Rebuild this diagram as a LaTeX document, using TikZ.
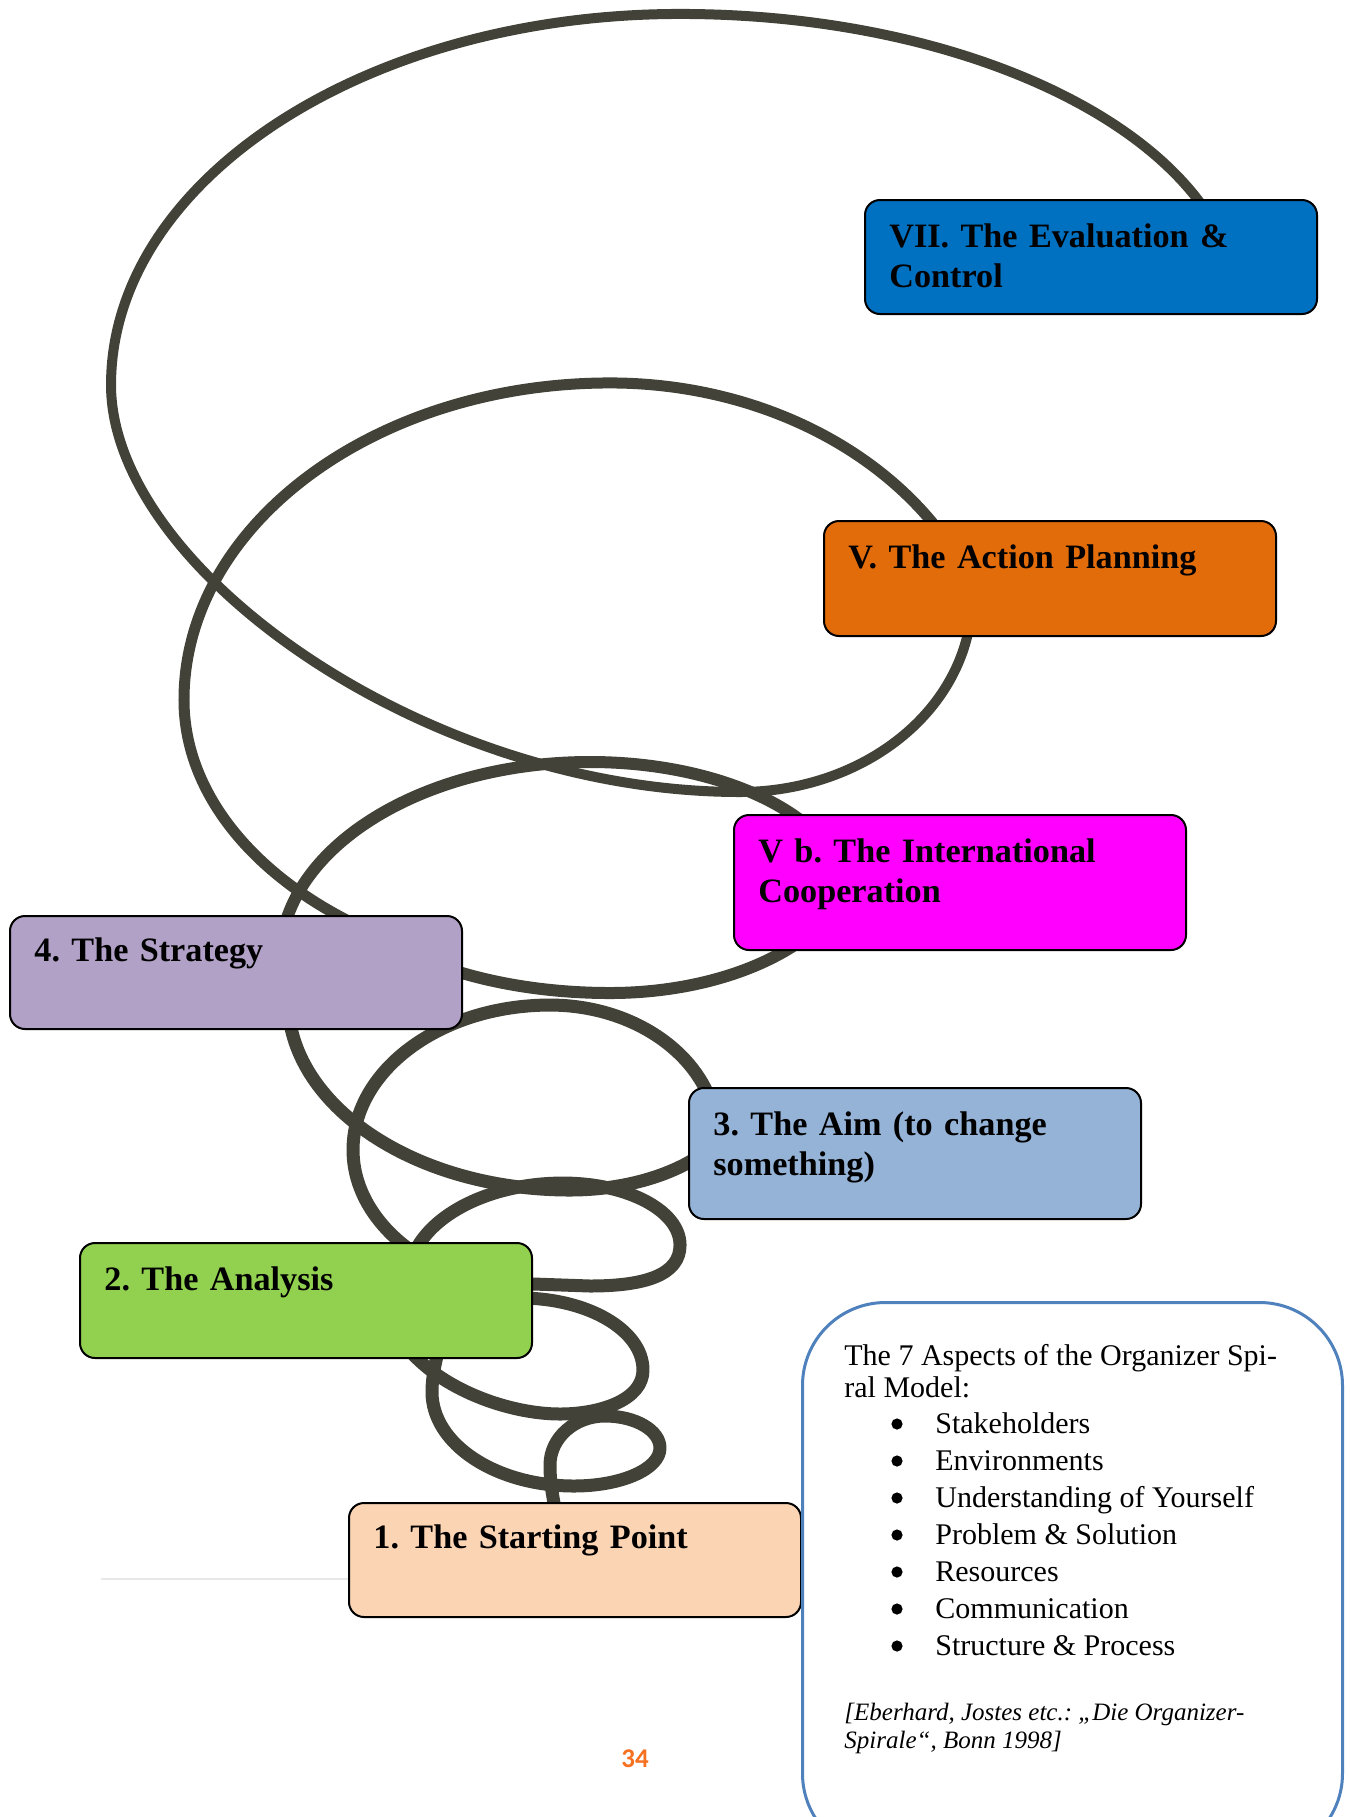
\documentclass[tikz,border=0pt]{standalone}
\usepackage{fontspec}
\setmainfont{Liberation Serif}
\newfontfamily\numfont{Carlito}
\definecolor{spiral}{RGB}{66,66,56}
\definecolor{c7}{HTML}{0070C0}
\definecolor{c5}{HTML}{E36C0A}
\definecolor{c5b}{HTML}{FF00FF}
\definecolor{c4}{HTML}{B2A1C7}
\definecolor{c3}{HTML}{95B3D7}
\definecolor{c2}{HTML}{92D050}
\definecolor{c1}{HTML}{FBD4B4}
\definecolor{infoblue}{HTML}{4F81BD}
\definecolor{pagenum}{RGB}{245,112,32}
\frenchspacing
\begin{document}
\begin{tikzpicture}[x=0.5pt,y=-0.5pt,
  coil/.style={draw=spiral, line cap=round, line join=round},
  stagebox/.style={draw=black, line width=1pt, rounded corners=7.5pt, minimum width=226pt, anchor=north west, inner sep=0pt},
  stagetext/.style={anchor=base west, inner sep=0pt, text width=215pt, align=left, font=\fontsize{17.1}{20}\bfseries\selectfont},
  infobox/.style={draw=infoblue, line width=1.5pt, rounded corners=41.5pt, anchor=north west, inner sep=0pt, minimum width=270pt, minimum height=277pt},
  infoline/.style={anchor=base west, inner sep=0pt, font=\fontsize{15}{16}\selectfont},
  bulletmark/.style={circle, fill=black, inner sep=0pt, minimum size=5.6pt},
  citeline/.style={anchor=base west, inner sep=0pt, font=\fontsize{12.5}{14}\itshape\selectfont}
]
\useasboundingbox (0,0) rectangle (1350,1817);
\clip (0,0) rectangle (1350,1817);
\fill[white] (0,0) rectangle (1350,1817);

% ---- spiral (coordinates in px, y downwards) ----
% big loop: VII -> top -> left -> bottom -> V
\draw[coil, line width=5pt] (1230.8,259.8)
  arc[start angle=-10.4, end angle=-90, x radius=560, y radius=300]
  arc[start angle=-90, end angle=-180, x radius=569, y radius=371]
  .. controls (111,568) and (425,792) .. (740,792)
  arc[start angle=90, end angle=-12, x radius=232, y radius=195];
% V -> top -> left -> box 4
\draw[coil, line width=5.5pt] (964.8,570)
  arc[start angle=-24.2, end angle=-90, x radius=389, y radius=317]
  arc[start angle=-90, end angle=-180, x radius=426, y radius=317]
  arc[start angle=-180, end angle=-237, x radius=426, y radius=280];
% box 4 right -> bottom -> Vb
\draw[coil, line width=6pt] (439.5,965.7)
  arc[start angle=126, end angle=90, x radius=290, y radius=143]
  arc[start angle=90, end angle=35, x radius=247, y radius=143];
% Vb -> top -> box 4 top
\draw[coil, line width=6pt] (832.4,852.8)
  arc[start angle=-20, end angle=-90, x radius=258, y radius=138]
  arc[start angle=-90, end angle=-175, x radius=310, y radius=198];
% box 4 bottom -> box 3 left
\draw[coil, line width=6.5pt] (288,1000)
  arc[start angle=180, end angle=90, x radius=282, y radius=190]
  arc[start angle=90, end angle=40, x radius=172, y radius=100];
% box 3 top -> box 2 top
\draw[coil, line width=6.5pt] (712.3,1105.1)
  arc[start angle=-15, end angle=-90, x radius=168, y radius=135]
  arc[start angle=-90, end angle=-180, x radius=197, y radius=145]
  arc[start angle=-180, end angle=-240, x radius=197, y radius=142];
% box 2 top -> box 2 right
\draw[coil, line width=6.5pt] (410.4,1263.2)
  arc[start angle=-170, end angle=-90, x radius=155, y radius=97]
  arc[start angle=-90, end angle=0, x radius=117, y radius=62]
  .. controls (680,1275) and (645,1286) .. (590,1286) -- (505,1283);
% box 2 right -> box 2 bottom
\draw[coil, line width=6.5pt] (520,1298)
  arc[start angle=-90, end angle=0, x radius=123, y radius=72]
  .. controls (643,1400) and (600,1414) .. (560,1414)
  .. controls (510,1414) and (440,1390) .. (405,1345);
% box 2 bottom -> small loop -> box 1 top
\draw[coil, line width=6.5pt] (442,1335)
  .. controls (436,1360) and (432,1375) .. (432,1392)
  arc[start angle=180, end angle=90, x radius=142, y radius=94]
  arc[start angle=90, end angle=0, x radius=86, y radius=38]
  arc[start angle=0, end angle=-90, x radius=55, y radius=32]
  arc[start angle=-90, end angle=-180, x radius=55, y radius=49]
  .. controls (550,1485) and (553,1497) .. (558,1525);

% faint scan line
\draw[gray!18, line width=1pt] (101,1579) -- (350,1579);

% ---- stage boxes ----
\node[stagebox, fill=c7,  minimum height=57pt]   (b7)  at (864,199)  {};
\node[stagebox, fill=c5,  minimum height=57.5pt] (b5)  at (823,520)  {};
\node[stagebox, fill=c5b, minimum height=67.5pt] (b5b) at (733,814)  {};
\node[stagebox, fill=c4,  minimum height=56.5pt] (b4)  at (9,915)    {};
\node[stagebox, fill=c3,  minimum height=65.5pt] (b3)  at (688,1087) {};
\node[stagebox, fill=c2,  minimum height=57.5pt] (b2)  at (79,1242)  {};
\node[stagebox, fill=c1,  minimum height=57pt]   (b1)  at (348,1502) {};

\node[stagetext] (t7)  at ([shift={(25,48)}]b7.north west)  {VII. The Evaluation \&\\Control};
\node[stagetext] (t5)  at ([shift={(25,48)}]b5.north west)  {V. The Action Planning};
\node[stagetext] (t5b) at ([shift={(25,48)}]b5b.north west) {V b. The International\\Cooperation};
\node[stagetext] (t4)  at ([shift={(25,46)}]b4.north west)  {4. The Strategy};
\node[stagetext] (t3)  at ([shift={(25,48)}]b3.north west)  {3. The Aim (to change\\something)};
\node[stagetext] (t2)  at ([shift={(25,48)}]b2.north west)  {2. The Analysis};
\node[stagetext] (t1)  at ([shift={(25,46)}]b1.north west)  {1. The Starting Point};

% ---- info box ----
\node[infobox] (info) at (801,1301) {};
\node[infoline] (h1) at (844,1365) {The 7 Aspects of the Organizer Spi-};
\node[infoline] (h2) at (844,1397) {ral Model:};
\foreach \i/\txt in {0/Stakeholders,1/Environments,2/Understanding of Yourself,3/Problem \& Solution,4/Resources,5/Communication,6/Structure \& Process}{
  \node[bulletmark] (m\i) at (897,1424+37*\i) {};
  \node[infoline] (a\i) at (935,1433+37*\i) {\txt};
}
\node[citeline] (c1) at (844,1720) {[Eberhard, Jostes etc.: „Die Organizer-};
\node[citeline] (c2) at (844,1748) {Spirale“, Bonn 1998]};

% page number
\node[anchor=base, inner sep=0pt, text=pagenum, font=\numfont\fontsize{13.5}{14}\bfseries\selectfont] (pg) at (635,1767) {34};
\end{tikzpicture}
\end{document}
